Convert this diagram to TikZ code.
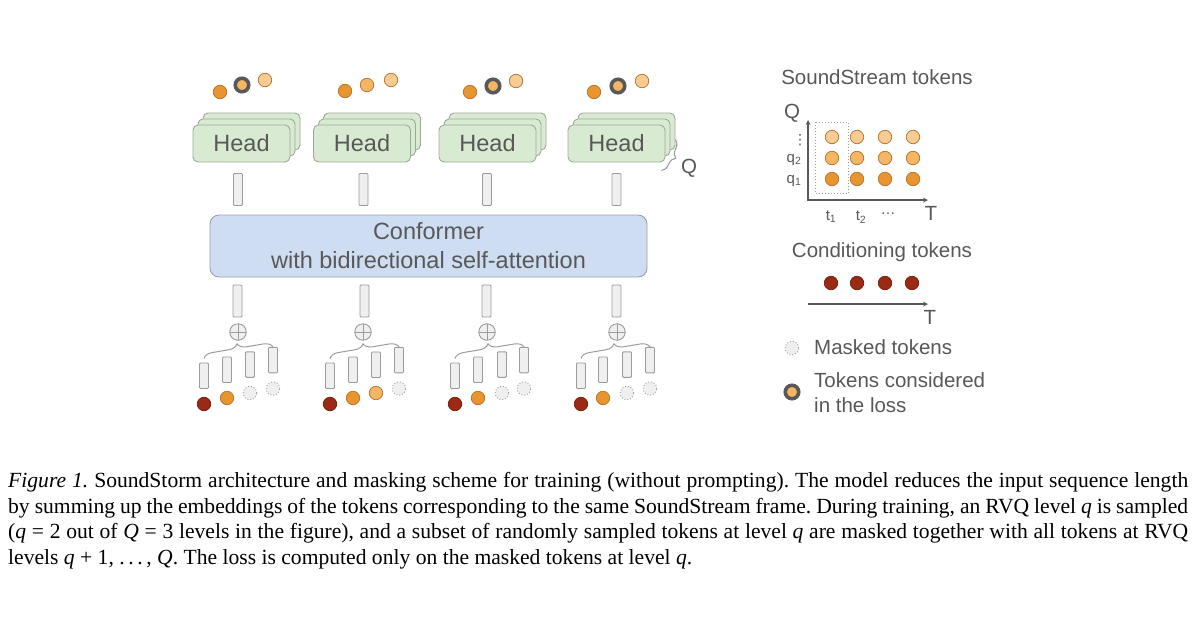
\documentclass[tikz,border=0pt]{standalone}
\usepackage{fontspec}
\setmainfont{Liberation Serif}
\setsansfont{Liberation Sans}
\newfontfamily\dotsfont{DejaVu Sans}
\usepackage{tikz}
\usetikzlibrary{arrows, positioning, fit, decorations.pathreplacing}
\definecolor{headfill}{HTML}{D9EAD3}
\definecolor{headline}{HTML}{9EA89A}
\definecolor{conffill}{HTML}{CFDDF3}
\definecolor{confline}{HTML}{9A9FA8}
\definecolor{barfill}{HTML}{EFEFEF}
\definecolor{barline}{HTML}{9C9C9C}
\definecolor{txtgray}{HTML}{585858}
\definecolor{condred}{HTML}{9B2A14}
\definecolor{condline}{HTML}{6E1C0C}
\definecolor{qonefill}{HTML}{E8942F}
\definecolor{qtwofill}{HTML}{F4B565}
\definecolor{qthreefill}{HTML}{F8CB92}
\definecolor{tokline}{HTML}{B0722E}
\definecolor{ringgray}{HTML}{595959}
\tikzstyle{head} = [rectangle, rounded corners=5pt, minimum width=97pt, minimum height=37pt, draw=headline, line width=0.9pt, fill=headfill, text=txtgray, font=\sffamily\fontsize{23.5}{28}\selectfont]
\tikzstyle{conf} = [rectangle, rounded corners=9pt, minimum width=437pt, minimum height=62pt, draw=confline, line width=0.9pt, fill=conffill, text=txtgray, align=center, font=\sffamily\fontsize{23.5}{29}\selectfont]
\tikzstyle{emb} = [rectangle, rounded corners=1pt, minimum width=9pt, minimum height=32pt, inner sep=0pt, draw=barline, line width=0.9pt, fill=barfill]
\tikzstyle{smallemb} = [emb, minimum height=25.5pt]
\tikzstyle{plusnode} = [circle, minimum size=16.5pt, inner sep=0pt, draw=barline, line width=0.9pt, fill=barfill, path picture={\draw[barline, line width=0.9pt] (path picture bounding box.north) -- (path picture bounding box.south) (path picture bounding box.west) -- (path picture bounding box.east);}]
\tikzstyle{tok} = [circle, minimum size=13.5pt, inner sep=0pt, draw=tokline, line width=0.7pt]
\tikzstyle{condtok} = [tok, fill=condred, draw=condline]
\tikzstyle{qone} = [tok, fill=qonefill]
\tikzstyle{qtwo} = [tok, fill=qtwofill]
\tikzstyle{qthree} = [tok, fill=qthreefill]
\tikzstyle{masked} = [tok, fill=barfill, draw=barline, line width=0.9pt, dotted]
\tikzstyle{loss} = [tok, minimum size=13.5pt, fill=qtwofill, draw=ringgray, line width=3.6pt]
\tikzstyle{sumbrace} = [decorate, decoration={brace, amplitude=9pt}, draw=barline, line width=1pt]
\tikzstyle{qbrace} = [decorate, decoration={brace, amplitude=8pt}, draw=barline, line width=1.1pt]
\tikzstyle{axis} = [draw=ringgray, line width=1.2pt, ->, >=stealth]
\tikzstyle{label} = [text=txtgray, inner sep=1pt, font=\sffamily\fontsize{20.5}{25}\selectfont]
\tikzstyle{ticklabel} = [text=txtgray, inner sep=0pt, font=\sffamily\fontsize{15}{18}\selectfont]

\begin{document}
\begin{tikzpicture}[x=1pt, y=-1pt, node distance=8pt]
	\useasboundingbox (0,0) rectangle (1200,630);

	\node (head1c) [head] at (251.5,131.5) {};
	\node (head1b) [head] at (246.5,137.5) {};
	\node (head1) [head] at (241.5,143.5) {Head};
	\node (head2c) [head] at (372,131.5) {};
	\node (head2b) [head] at (367,137.5) {};
	\node (head2) [head] at (362,143.5) {Head};
	\node (head3c) [head] at (497.5,131.5) {};
	\node (head3b) [head] at (492.5,137.5) {};
	\node (head3) [head] at (487.5,143.5) {Head};
	\node (head4c) [head] at (626.5,131.5) {};
	\node (head4b) [head] at (621.5,137.5) {};
	\node (head4) [head] at (616.5,143.5) {Head};
	\draw [qbrace] ([shift={(0,-11)}]head4c.south east) -- ([shift={(-4,8)}]head4.south east);
	\node (qheads) [label] at (689,168) {Q};

	\node (out11) [qone] at (220,92) {};
	\node (out12) [loss] at (242,85) {};
	\node (out13) [qthree] at (265,80) {};
	\node (out21) [qone] at (345,91) {};
	\node (out22) [qtwo] at (367,85) {};
	\node (out23) [qthree] at (391,80) {};
	\node (out31) [qone] at (470,92) {};
	\node (out32) [loss] at (493,86) {};
	\node (out33) [qthree] at (516,81) {};
	\node (out41) [qone] at (594,92) {};
	\node (out42) [loss] at (618,86) {};
	\node (out43) [qthree] at (642,81) {};

	\node (up1) [emb] at (238,189.5) {};
	\node (up2) [emb] at (363.5,189.5) {};
	\node (up3) [emb] at (487,189.5) {};
	\node (up4) [emb] at (616.5,189.5) {};

	\node (conformer) [conf] at (428.5,246) {Conformer\\with bidirectional self-attention};

	\node (low1) [emb] at (237.5,301) {};
	\node (low2) [emb] at (364.5,301) {};
	\node (low3) [emb] at (486.5,301) {};
	\node (low4) [emb] at (616.5,301) {};
	\node (sum1) [plusnode] at (238,332) {};
	\node (sum2) [plusnode] at (363,332) {};
	\node (sum3) [plusnode] at (487,332) {};
	\node (sum4) [plusnode] at (617,332) {};

	\node (in10) [condtok] at (204,404) {};
	\node (in11) [qone] at (227,398) {};
	\node (in12) [masked] at (250,393) {};
	\node (in13) [masked] at (273,388.5) {};
	\node (in20) [condtok] at (330,404) {};
	\node (in21) [qone] at (353,398) {};
	\node (in22) [qtwo] at (376,393) {};
	\node (in23) [masked] at (399,388.5) {};
	\node (in30) [condtok] at (455,404) {};
	\node (in31) [qone] at (478,398) {};
	\node (in32) [masked] at (502,393) {};
	\node (in33) [masked] at (524,388.5) {};
	\node (in40) [condtok] at (581,404) {};
	\node (in41) [qone] at (603,398) {};
	\node (in42) [masked] at (627,393) {};
	\node (in43) [masked] at (650,388.5) {};

	\node (emb10) [smallemb, above=of in10] {};
	\node (emb11) [smallemb, above=of in11] {};
	\node (emb12) [smallemb, above=of in12] {};
	\node (emb13) [smallemb, above=of in13] {};
	\node (emb20) [smallemb, above=of in20] {};
	\node (emb21) [smallemb, above=of in21] {};
	\node (emb22) [smallemb, above=of in22] {};
	\node (emb23) [smallemb, above=of in23] {};
	\node (emb30) [smallemb, above=of in30] {};
	\node (emb31) [smallemb, above=of in31] {};
	\node (emb32) [smallemb, above=of in32] {};
	\node (emb33) [smallemb, above=of in33] {};
	\node (emb40) [smallemb, above=of in40] {};
	\node (emb41) [smallemb, above=of in41] {};
	\node (emb42) [smallemb, above=of in42] {};
	\node (emb43) [smallemb, above=of in43] {};

	\draw [sumbrace] ([yshift=4pt]emb10.north) -- (emb13.north);
	\draw [sumbrace] ([yshift=4pt]emb20.north) -- (emb23.north);
	\draw [sumbrace] ([yshift=4pt]emb30.north) -- (emb33.north);
	\draw [sumbrace] ([yshift=4pt]emb40.north) -- (emb43.north);

	\node (sstitle) [label] at (877,77) {SoundStream tokens};
	\coordinate (origin) at (808,200);
	\coordinate (qtip) at (808,120);
	\coordinate (ttip) at (928,200);
	\draw [axis] (origin) -- (qtip);
	\draw [axis] ([xshift=-1pt]origin) -- (ttip);
	\node (qaxis) [label] at (792,113) {Q};
	\node (taxis) [label] at (931,213) {T};

	\node (g31) [qthree] at (832,137) {};
	\node (g32) [qthree] at (857,137) {};
	\node (g33) [qthree] at (885,137) {};
	\node (g34) [qthree] at (913,137) {};
	\node (g21) [qtwo] at (832,158) {};
	\node (g22) [qtwo] at (857,158) {};
	\node (g23) [qtwo] at (885,158) {};
	\node (g24) [qtwo] at (913,158) {};
	\node (g11) [qone] at (832,179) {};
	\node (g12) [qone] at (857,179) {};
	\node (g13) [qone] at (885,179) {};
	\node (g14) [qone] at (913,179) {};
	\node (frame) [draw=barline, dotted, line width=1pt, inner xsep=9pt, inner ysep=7.5pt, fit=(g31) (g11)] {};

	\node (vdots) [ticklabel, font=\dotsfont\fontsize{14}{16}\selectfont] at (800,140) {⋮};
	\node (qtwolabel) [ticklabel] at (794,160) {q\textsubscript{2}};
	\node (qonelabel) [ticklabel] at (794,181) {q\textsubscript{1}};
	\node (tonelabel) [ticklabel] at (831,217) {t\textsubscript{1}};
	\node (ttwolabel) [ticklabel] at (861,217) {t\textsubscript{2}};
	\node (tdots) [ticklabel] at (888,214) {\ldots};

	\node (condtitle) [label] at (882,252) {Conditioning tokens};
	\node (c1) [condtok] at (831,283) {};
	\node (c2) [condtok] at (857,283) {};
	\node (c3) [condtok] at (885,283) {};
	\node (c4) [condtok] at (912,283) {};
	\coordinate (cstart) at (808,304);
	\coordinate (cend) at (928,304);
	\draw [axis] (cstart) -- (cend);
	\node (ctaxis) [label] at (930,317) {T};

	\node (masklegend) [masked] at (792,348) {};
	\node (masktext) [label, anchor=west] at (813,347) {Masked tokens};
	\node (losslegend) [loss] at (792,392) {};
	\node (losstext) [label, anchor=west, align=left] at (813,393) {Tokens considered\\in the loss};

	\node (caption) [anchor=north west, inner sep=0pt, text width=1180pt, align=justify, font=\rmfamily\fontsize{21.6}{25.6}\selectfont] at (8,472) {\frenchspacing\hyphenpenalty=10000\relax\textit{Figure 1.} SoundStorm architecture and masking scheme for training (without prompting). The model reduces the input sequence length\linebreak by summing up the embeddings of the tokens corresponding to the same SoundStream frame. During training, an RVQ level \textit{q} is sampled\linebreak (\textit{q}~=~2 out of \textit{Q}~=~3 levels in the figure), and a subset of randomly sampled tokens at level \textit{q} are masked together with all tokens at RVQ\linebreak levels \textit{q}~+~1,~.\,.\,.\,,~\textit{Q}. The loss is computed only on the masked tokens at level \textit{q}.};
\end{tikzpicture}
\end{document}
